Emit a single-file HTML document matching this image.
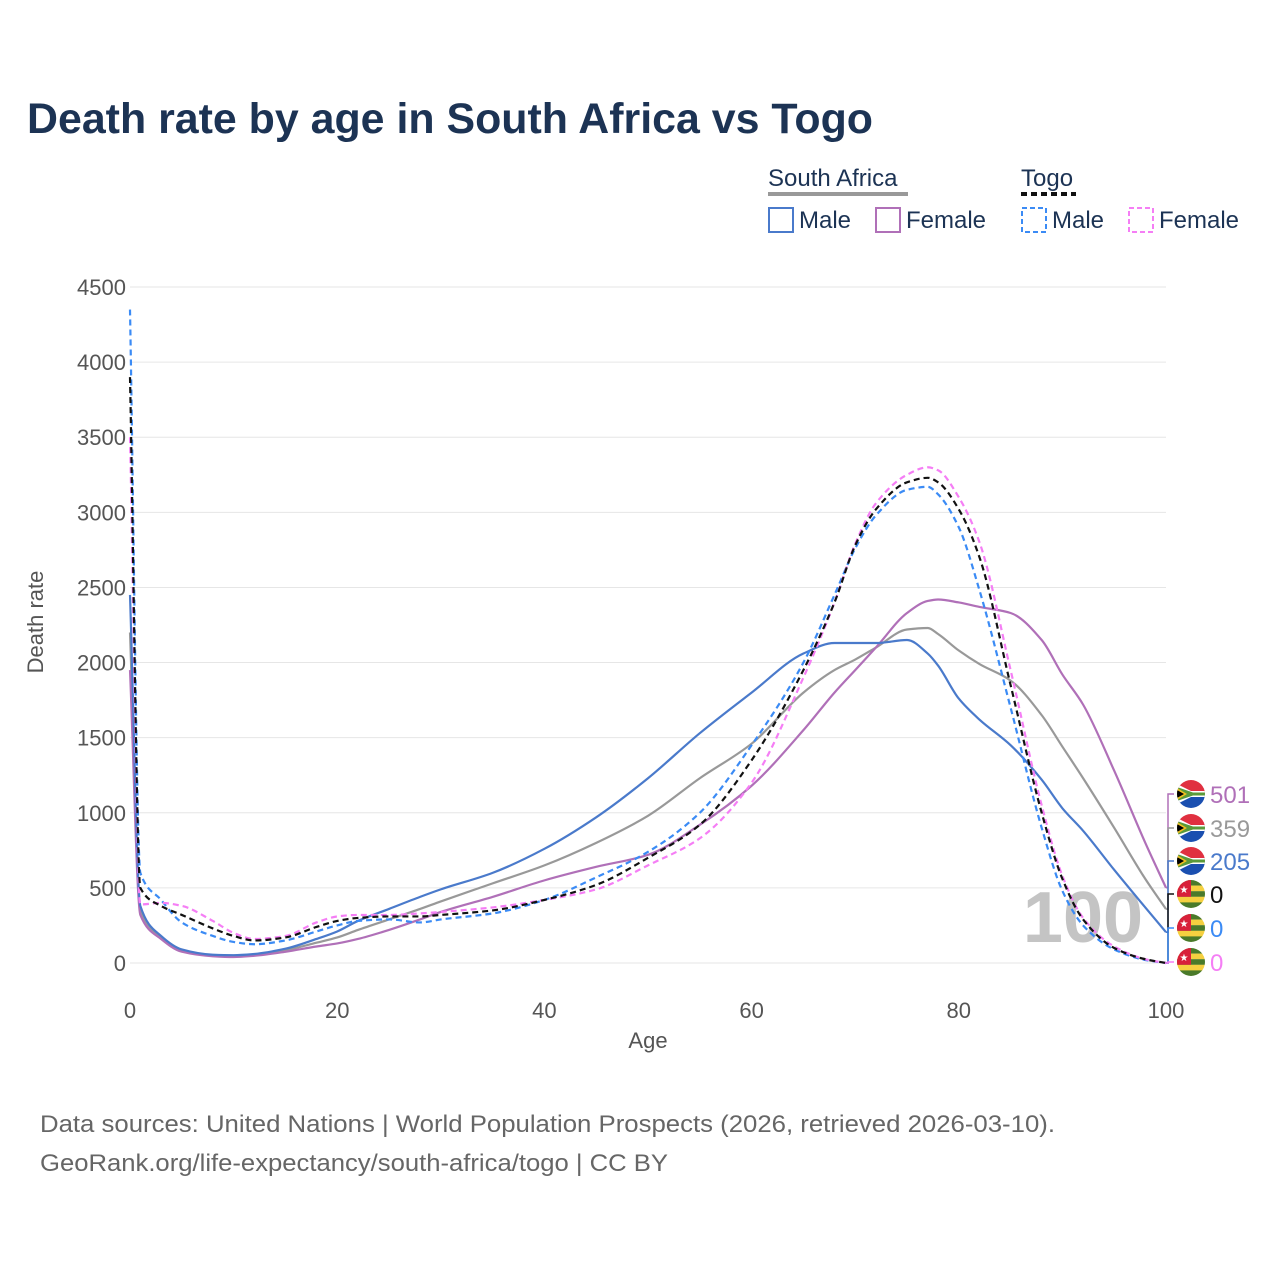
<!DOCTYPE html>
<html><head><meta charset="utf-8">
<style>
body{margin:0;background:#fff;font-family:"Liberation Sans",sans-serif;}
</style></head>
<body>
<svg id="chart" width="1280" height="1280" viewBox="0 0 1280 1280" xmlns="http://www.w3.org/2000/svg">
<defs>
<clipPath id="fc"><circle cx="0" cy="0" r="14"/></clipPath>
</defs>
<text x="27" y="133" font-size="43" font-weight="bold" fill="#1c3354" textLength="846" lengthAdjust="spacingAndGlyphs">Death rate by age in South Africa vs Togo</text>
<g id="legend" font-size="24" fill="#1c3354">
<text x="768" y="186">South Africa</text>
<line x1="768" y1="194" x2="908" y2="194" stroke="#999" stroke-width="4"/>
<text x="1021" y="186">Togo</text>
<line x1="1021" y1="194" x2="1076" y2="194" stroke="#111" stroke-width="4" stroke-dasharray="6,4"/>
<g><rect x="769" y="208" width="24" height="24" fill="none" stroke="#4a7acb" stroke-width="2"/><text x="799" y="228">Male</text></g>
<g><rect x="876" y="208" width="24" height="24" fill="none" stroke="#b070b8" stroke-width="2"/><text x="906" y="228">Female</text></g>
<g><rect x="1022" y="208" width="24" height="24" fill="none" stroke="#3b8bf5" stroke-width="2" stroke-dasharray="5,3"/><text x="1052" y="228">Male</text></g>
<g><rect x="1129" y="208" width="24" height="24" fill="none" stroke="#f57ef5" stroke-width="2" stroke-dasharray="5,3"/><text x="1159" y="228">Female</text></g>
</g>
<g id="grid"></g>
<g id="axes"></g>
<text x="1083" y="942" font-size="72" font-weight="bold" fill="#c4c4c4" text-anchor="middle">100</text>
<g id="series"></g>
<g id="endlabels"></g>
<text x="43" y="622" font-size="22" fill="#555" transform="rotate(-90 43 622)" text-anchor="middle">Death rate</text>
<text x="648" y="1048" font-size="22" fill="#555" text-anchor="middle">Age</text>
<text x="40" y="1132" font-size="24" fill="#666" textLength="1015" lengthAdjust="spacingAndGlyphs">Data sources: United Nations | World Population Prospects (2026, retrieved 2026-03-10).</text>
<text x="40" y="1171" font-size="24" fill="#666" textLength="628" lengthAdjust="spacingAndGlyphs">GeoRank.org/life-expectancy/south-africa/togo | CC BY</text>
</svg>
<script>
const ages=[0,1,3,5,8,10,12,15,18,20,22,25,28,30,35,40,45,50,55,60,65,68,70,72,75,77,78,80,82,85,88,90,92,95,98,100];
const saMale=[2450,380,180,90,55,52,60,95,160,210,280,360,440,490,600,760,970,1230,1530,1800,2060,2130,2130,2130,2150,2060,1980,1760,1620,1450,1220,1030,880,620,370,205];
const saFemale=[1950,320,160,75,45,40,48,75,110,130,160,220,290,340,440,550,640,720,920,1180,1550,1800,1950,2100,2330,2410,2420,2400,2370,2330,2150,1920,1720,1280,800,501];
const saBoth=[2200,350,170,82,50,46,55,85,135,170,220,290,360,410,530,650,800,980,1230,1460,1800,1950,2020,2100,2220,2230,2190,2080,1990,1880,1650,1440,1230,900,560,359];
const tgMale=[4350,600,420,270,180,140,125,150,210,250,280,290,270,290,330,420,570,740,1000,1450,2000,2450,2760,2980,3150,3170,3120,2900,2480,1700,900,480,250,90,20,0];
const tgBoth=[3900,500,380,320,230,180,150,170,240,280,300,310,310,320,350,420,520,700,920,1350,1950,2400,2780,3020,3200,3230,3200,3020,2700,1850,1000,560,290,100,25,0];
const tgFemale=[3500,390,400,380,280,200,160,180,270,310,320,320,330,340,370,420,490,650,830,1200,1900,2400,2790,3060,3250,3300,3280,3100,2800,1950,1050,580,300,110,25,0];
const yTicks=[0,500,1000,1500,2000,2500,3000,3500,4000,4500];
const xTicks=[0,20,40,60,80,100];
const endLabels=["501","359","205","0","0","0"];
const NS="http://www.w3.org/2000/svg";
const X=a=>130+a*10.36;
const Y=v=>963-v*0.15022;
function mk(t,at,p){const e=document.createElementNS(NS,t);for(const k in at)e.setAttribute(k,at[k]);p.appendChild(e);return e;}
const grid=document.getElementById('grid'),axes=document.getElementById('axes');
yTicks.forEach(v=>{
 const l=mk('line',{x1:130,x2:1166,y1:Y(v),y2:Y(v),stroke:'#e6e6e6','stroke-width':1},grid);
 
 
 const t=mk('text',{x:126,y:Y(v)+8,'font-size':22,fill:'#555','text-anchor':'end'},axes);
 t.textContent=v;
 
 
});
xTicks.forEach(v=>{
 const t=mk('text',{x:X(v),y:1018,'font-size':22,fill:'#555','text-anchor':'middle'},axes);
 t.textContent=v;
 
 
});
function path(vals){
 const n=ages.length,xs=ages.map(X),ys=vals.map(Y);
 const d=[],m=[];
 for(let i=0;i<n-1;i++)d.push((ys[i+1]-ys[i])/(xs[i+1]-xs[i]));
 m[0]=d[0];m[n-1]=d[n-2];
 for(let i=1;i<n-1;i++){
  if(d[i-1]*d[i]<=0)m[i]=0;
  else{const h0=xs[i]-xs[i-1],h1=xs[i+1]-xs[i],w1=2*h1+h0,w2=h1+2*h0;m[i]=(w1+w2)/(w1/d[i-1]+w2/d[i]);}
 }
 let s='M'+xs[0]+','+ys[0];
 for(let i=0;i<n-1;i++){
  const h=(xs[i+1]-xs[i])/3;
  s+=` C${xs[i]+h},${ys[i]+m[i]*h} ${xs[i+1]-h},${ys[i+1]-m[i+1]*h} ${xs[i+1]},${ys[i+1]}`;
 }
 return s;
}
const sg=document.getElementById('series');
const defs=[
 [saBoth,'#999','','series-sa-both'],
 [saFemale,'#b070b8','','series-sa-female'],
 [saMale,'#4a7acb','','series-sa-male'],
 [tgMale,'#3b8bf5','6,4','series-togo-male'],
 [tgFemale,'#f57ef5','6,4','series-togo-female'],
 [tgBoth,'#111','6,4','series-togo-both']
];
defs.forEach(d=>{
 const el=mk('path',{d:path(d[0]),fill:'none',stroke:d[1],'stroke-width':2.2,'stroke-dasharray':d[2]},sg);
 
 
});
const eg=document.getElementById('endlabels');
const endSeries=[[saFemale,'#b070b8','sa'],[saBoth,'#999','sa'],[saMale,'#4a7acb','sa'],[tgBoth,'#111','tg'],[tgMale,'#3b8bf5','tg'],[tgFemale,'#f57ef5','tg']];
const labelY=[794,828,861,894,928,962];
endSeries.forEach((s,i)=>{
 const v=s[0][s[0].length-1],y0=Y(v),y1=labelY[i];
 mk('path',{d:`M1166,${y0} L1168,${y0} L1168,${y1} L1174,${y1}`,fill:'none',stroke:s[1],'stroke-width':1.5},eg);
 const g=mk('g',{transform:`translate(1191,${y1})`,'clip-path':'url(#fc)'},eg);
 
 
 if(s[2]==='sa'){
  mk('rect',{x:-14,y:-14,width:28,height:14,fill:'#e03040'},g);
  mk('rect',{x:-14,y:0,width:28,height:14,fill:'#1a4fb0'},g);
  mk('path',{d:'M-14,-10 L0,-3 L14,-3 L14,3 L0,3 L-14,10Z',fill:'#fff'},g);
  mk('path',{d:'M-14,-7 L2,-1.5 L14,-1.5 L14,1.5 L2,1.5 L-14,7Z',fill:'#5a9a3a'},g);
  mk('path',{d:'M-14,-6 L-4,0 L-14,6Z',fill:'#f0c020'},g);
  mk('path',{d:'M-14,-4 L-7,0 L-14,4Z',fill:'#000'},g);
 } else {
  const cols=['#4a7a2a','#f5d040','#4a7a2a','#f5d040','#4a7a2a'];
  cols.forEach((c,k)=>mk('rect',{x:-14,y:-14+k*5.6,width:28,height:5.7,fill:c},g));
  mk('rect',{x:-14,y:-14,width:14,height:16.8,fill:'#d8203a'},g);
  mk('text',{x:-7,y:-1,'font-size':10,fill:'#fff','text-anchor':'middle'},g).textContent='★';
 }
 const t=mk('text',{x:1210,y:y1+9,'font-size':24,fill:s[1]},eg);
 t.textContent=endLabels[i];
 
 
});
</script>
</body></html>
